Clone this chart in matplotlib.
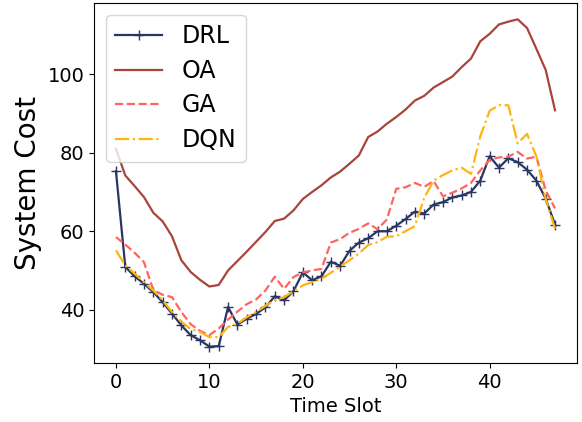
import numpy as np
import matplotlib
matplotlib.use('Agg')
import matplotlib.pyplot as plt

# time slots 0..47
slots = np.arange(48)

drl = [75.3, 50.9, 48.5, 46.6, 44.5, 41.9, 39.0, 36.0, 33.5, 32.2, 30.6, 30.7,
       40.7, 36.2, 37.7, 38.9, 40.6, 43.4, 42.4, 44.7, 49.5, 47.5, 48.5, 52.2,
       51.2, 55.0, 57.1, 58.2, 60.0, 60.0, 61.4, 63.1, 65.0, 64.5, 66.8, 67.4,
       68.6, 69.1, 70.0, 72.9, 79.1, 76.2, 78.6, 77.6, 75.7, 72.9, 68.3, 61.7]
oa = [81.0, 74.2, 71.5, 68.7, 64.7, 62.5, 58.7, 52.6, 49.6, 47.6, 45.9, 46.3,
      50.0, 52.4, 54.8, 57.3, 59.8, 62.6, 63.2, 65.3, 68.2, 70.0, 71.7, 73.7,
      75.2, 77.2, 79.3, 84.0, 85.4, 87.4, 89.1, 91.0, 93.3, 94.5, 96.6, 98.0,
      99.4, 101.8, 104.0, 108.4, 110.3, 112.7, 113.4, 114.0, 111.8, 106.5, 101.1, 90.8]
ga = [58.5, 56.6, 54.5, 52.1, 45.0, 43.8, 43.2, 39.4, 36.3, 34.6, 33.5, 35.2,
      37.5, 39.5, 41.4, 42.6, 44.9, 48.4, 45.3, 48.3, 49.5, 50.0, 50.4, 57.1,
      58.0, 59.6, 60.6, 62.0, 60.5, 63.0, 70.8, 71.2, 72.3, 71.3, 72.8, 68.9,
      69.8, 70.9, 72.3, 75.5, 78.2, 78.8, 79.0, 80.2, 78.5, 79.0, 70.4, 65.8]
dqn = [55.1, 51.3, 49.2, 47.0, 44.9, 42.4, 39.4, 37.0, 35.0, 34.3, 33.0, 33.0,
       35.6, 36.4, 38.1, 39.4, 41.0, 42.4, 43.2, 44.7, 46.2, 47.0, 47.9, 49.4,
       51.0, 52.6, 54.3, 56.5, 57.2, 58.6, 58.7, 60.0, 61.3, 68.5, 72.9, 74.3,
       75.5, 76.2, 74.6, 84.2, 90.7, 92.1, 92.1, 82.4, 84.8, 79.1, 68.2, 60.6]

fig, ax = plt.subplots(figsize=(5.82, 4.22), dpi=100)
fig.subplots_adjust(left=0.1615, right=0.9914, top=0.993, bottom=0.14)

ax.plot(slots, drl, color='#2b3562', marker='+', markersize=7, linewidth=1.6, label='DRL')
ax.plot(slots, oa, color='#a8453b', linestyle='-', linewidth=1.6, label='OA')
ax.plot(slots, ga, color='#ff6461', linestyle='--', linewidth=1.6, label='GA')
ax.plot(slots, dqn, color='#ffb511', linestyle='-.', linewidth=1.6, label='DQN')

ax.set_xlabel('Time Slot', fontsize=14)
ax.set_ylabel('System Cost', fontsize=20)
ax.tick_params(labelsize=14)
ax.set_yticks([40, 60, 80, 100])
ax.set_xticks([0, 10, 20, 30, 40])
ax.legend(loc='upper left', fontsize=17, labelspacing=0.45)

plt.savefig('out.png', dpi=100)
